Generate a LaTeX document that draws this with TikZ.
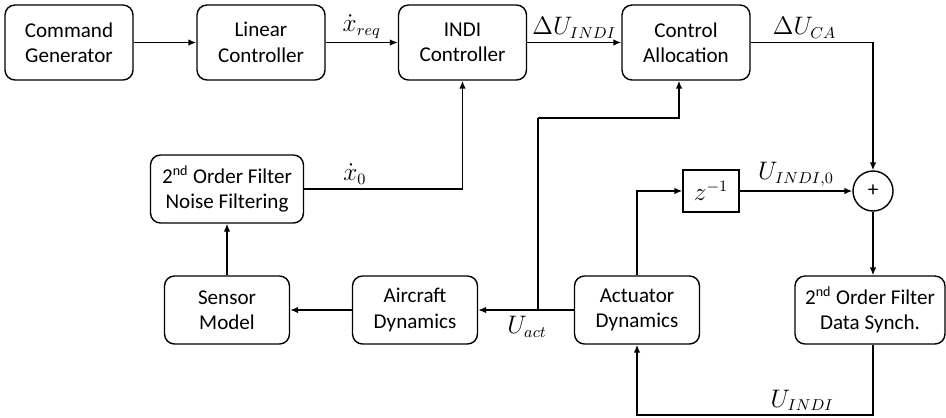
\documentclass[tikz,border=0pt]{standalone}
\usepackage{fontspec}
\setmainfont{Carlito}
\usetikzlibrary{arrows.meta}

\begin{document}
\begin{tikzpicture}[
        x=0.02cm, y=-0.02cm,
        every node/.style={
            font=\fontsize{12}{14.5}\selectfont
        },
        block/.style={draw, thick, rounded corners=0.2cm, align=center,
            minimum width=2.56cm, minimum height=1.5cm, inner sep=0pt},
        lowblock/.style={block, minimum width=2.5cm, minimum height=1.36cm},
        lbl/.style={font=\fontsize{13.5}{15}\selectfont, inner sep=2pt},
        sig/.style={-{Latex[length=1.6mm, width=1.3mm]}, thick}
    ]
        \useasboundingbox (0,0) rectangle (946,417);

        % Top row
        \node[block] (cmd) at (69,42.5) {Command\\Generator};
        \node[block] (lin) at (261,42.5) {Linear\\Controller};
        \node[block] (indi) at (462.5,42.5) {INDI\\Controller};
        \node[block] (ca) at (686,42.5) {Control\\Allocation};

        % Middle row
        \node[lowblock, minimum width=3.06cm] (noise) at (227,189) {2\textsuperscript{nd} Order Filter\\Noise Filtering};
        \node[draw, thick, minimum width=1.12cm, minimum height=0.84cm] (zinv) at (711,191) {\fontsize{13.5}{15}\selectfont$z^{-1}$};
        \node[draw, thick, circle, minimum size=0.8cm, inner sep=0pt] (sum) at (873,191) {+};

        % Bottom row
        \node[lowblock] (sens) at (227,310) {Sensor\\Model};
        \node[lowblock] (air) at (415,310) {Aircraft\\Dynamics};
        \node[lowblock] (act) at (637,310) {Actuator\\Dynamics};
        \node[lowblock, minimum width=3cm] (datf) at (870,310) {2\textsuperscript{nd} Order Filter\\Data Synch.};

        \coordinate (uact) at (538,310);
        \coordinate (ubend) at (538,118);
        \coordinate (uindi) at (637,415);

        \draw[sig] (cmd) -- (lin);
        \draw[sig] (lin) -- node[lbl, above] {$\dot{x}_{req}$} (indi);
        \draw[sig] (indi) -- node[lbl, above] {$\Delta U_{INDI}$} (ca);
        \draw[sig] (ca.east) -| node[lbl, pos=0.22, above] {$\Delta U_{CA}$} (sum.north);

        \draw[sig] (zinv) -- node[lbl, above] {$U_{INDI,0}$} (sum);
        \draw[sig] (sum) -- (sum |- datf.north);
        \draw[sig] (sum |- datf.south) |- node[lbl, pos=0.65, above] {$U_{INDI}$} (uindi) -- (act.south);

        \draw[sig] (act.north) |- (zinv.west);
        \draw[sig] (act.west) -- (air.east);
        \draw[thick] (uact) -- (ubend);
        \draw[sig] (ubend) -| ([xshift=-0.14cm]ca.south);
        \node[lbl] (uactlabel) at (527,327) {$U_{act}$};

        \draw[sig] (air) -- (sens);
        \draw[sig] (sens) -- (noise);
        \draw[sig] (noise.east) -| node[lbl, pos=0.16, above] {$\dot{x}_0$} (indi.south);

    \end{tikzpicture}
\end{document}
